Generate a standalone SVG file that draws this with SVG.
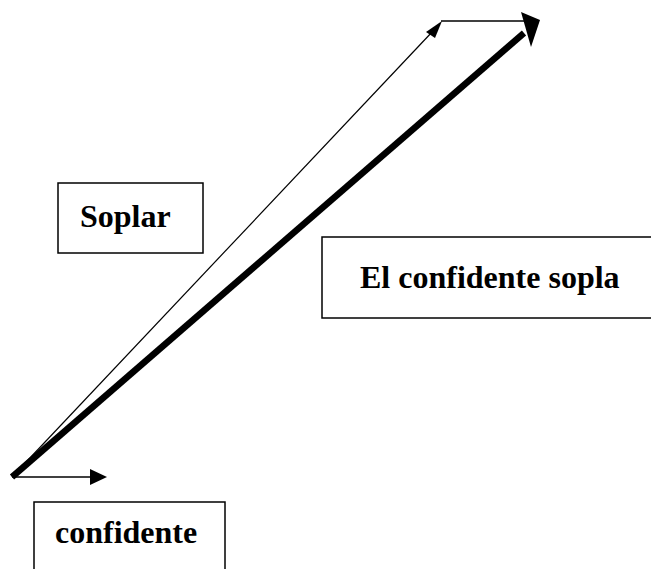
<svg xmlns="http://www.w3.org/2000/svg" width="651" height="569" viewBox="0 0 651 569">
<style>
.box{fill:#fff;stroke:#000;stroke-width:1.5}
.lbl{font-family:"Liberation Serif","Times New Roman",serif;font-weight:bold;font-size:32px;fill:#000}
.ln{stroke:#000;fill:none}
.hd{fill:#000;stroke:none}
</style>
<rect width="651" height="569" fill="#fff"/>
<g id="connectors">
<line class="ln" x1="12" y1="477" x2="433" y2="31" stroke-width="1.2"/>
<polygon class="hd" points="442,21 426,32 435,38"/>
<line class="ln" x1="441" y1="21" x2="525" y2="21" stroke-width="1.5"/>
<line class="ln" x1="12" y1="477" x2="524" y2="33" stroke-width="6.5"/>
<polygon class="hd" points="521,12 540,20 531,47"/>
<line class="ln" x1="12" y1="477" x2="92" y2="477" stroke-width="1.5"/>
<polygon class="hd" points="90,469 107,477 90,485"/>
</g>
<g id="node-soplar">
<rect class="box" x="58" y="183" width="145" height="70"/>
<text class="lbl" x="80" y="227">Soplar</text>
</g>
<g id="node-el-confidente-sopla">
<rect class="box" x="322" y="237" width="340" height="81"/>
<text class="lbl" x="360" y="288">El confidente sopla</text>
</g>
<g id="node-confidente">
<rect class="box" x="34" y="502" width="191" height="80"/>
<text class="lbl" x="55" y="543">confidente</text>
</g>
</svg>
